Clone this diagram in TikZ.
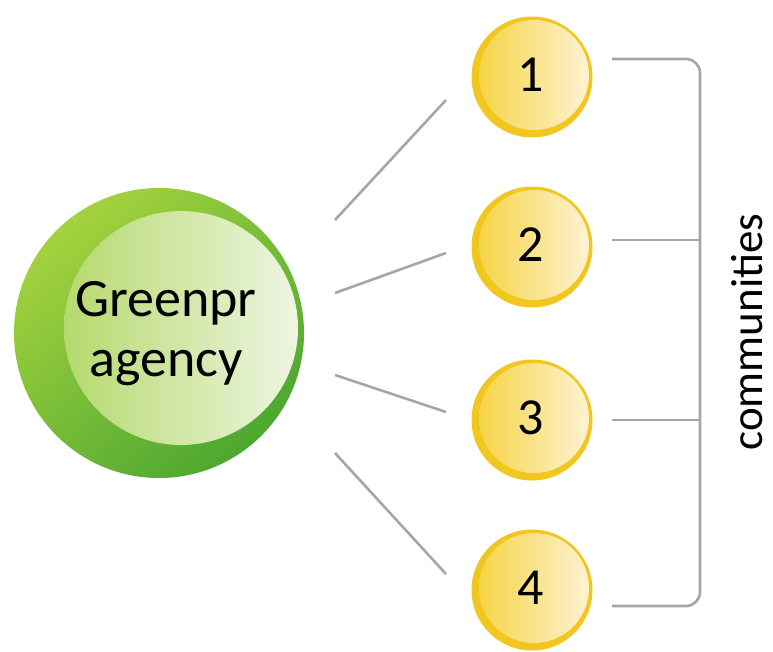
\documentclass[tikz,border=0pt]{standalone}
\usepackage{fontspec}
\setmainfont{Carlito}
\definecolor{gOutA}{HTML}{A4D23E}
\definecolor{gOutB}{HTML}{4CA730}
\definecolor{gInA}{HTML}{B6D96E}
\definecolor{gInB}{HTML}{EEF5E2}
\definecolor{yRing}{HTML}{F1C61E}
\definecolor{yInA}{HTML}{F6D447}
\definecolor{yInB}{HTML}{FDF3D2}
\definecolor{lineGray}{HTML}{A6A6A6}
\begin{document}
\begin{tikzpicture}[x=1pt,y=-1pt,
  link/.style={draw=lineGray,line width=2.6pt},
  numcirc/.style={circle,minimum size=121pt,inner sep=0pt,fill=yRing},
  numtext/.style={font=\fontsize{52}{52}\selectfont,text=black}]
\useasboundingbox (0,0) rectangle (773,651);
% green circle
\node[circle,minimum size=290pt,inner sep=0pt,shading=axis,top color=gOutA,bottom color=gOutB,shading angle=40] (g) at (159,333) {};
\node[circle,minimum size=234pt,inner sep=0pt,left color=gInA,right color=gInB] (gi) at (181,328) {};
\node[align=center,font=\fontsize{54}{60}\selectfont] (gt) at (166,334) {Greenpr\\agency};
% yellow circles
\foreach \i/\y in {1/77,2/247,3/420,4/590}{
  \node[numcirc] (n\i) at (532,\y) {};
  \node[circle,minimum size=110pt,inner sep=0pt,left color=yInA,right color=yInB] (ni\i) at (534,\y-2) {};
  \node[numtext] (t\i) at (531,\y-2) {\i};
}
% connectors
\coordinate (a1) at (335,220); \coordinate (b1) at (446,100);
\coordinate (a2) at (335,293); \coordinate (b2) at (446,253);
\coordinate (a3) at (335,375); \coordinate (b3) at (446,412);
\coordinate (a4) at (335,453); \coordinate (b4) at (446,574);
\foreach \i in {1,2,3,4}{ \draw[link] (a\i) -- (b\i); }
% bracket
\coordinate (r1) at (612,59); \coordinate (r2) at (612,240);
\coordinate (r3) at (612,420); \coordinate (r4) at (612,606);
\coordinate (v1) at (700,59); \coordinate (v4) at (700,606);
\draw[link,rounded corners=14pt] (r1) -- (v1) -- (v4) -- (r4);
\draw[link] (r2) -- (r2 -| v1);
\draw[link] (r3) -- (r3 -| v1);
\node[rotate=90,font=\fontsize{45}{45}\selectfont] (com) at (747,332) {communities};
\end{tikzpicture}
\end{document}
